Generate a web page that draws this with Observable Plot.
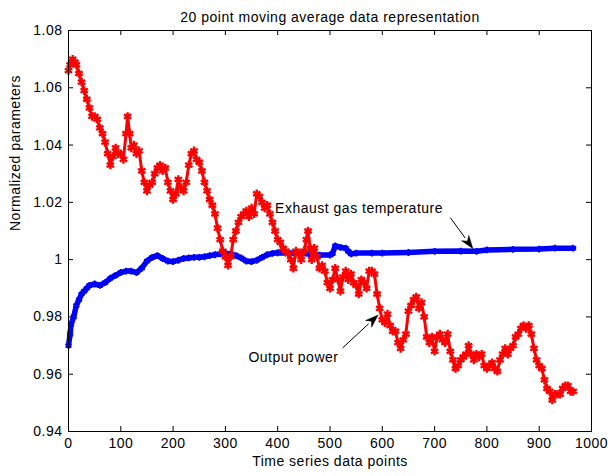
<!DOCTYPE html>
<html>
<head>
<meta charset="utf-8">
<script src="https://cdn.jsdelivr.net/npm/d3@7"></script>
<script src="https://cdn.jsdelivr.net/npm/@observablehq/plot@0.6"></script>
<style>
  html, body { margin: 0; padding: 0; background: #fff; }
  svg text { letter-spacing: 0.5px; }
</style>
</head>
<body>
<div id="chart"></div>
<script>
// ---- data ----
const titleText = "20 point moving average data representation";
const xLabel = "Time series data points";
const yLabel = "Normalized parameters";

const xTicks = [0, 100, 200, 300, 400, 500, 600, 700, 800, 900, 1000];
const xTickLabels = ["0", "100", "200", "300", "400", "500", "600", "700", "800", "900", "1000"];
const yTicks = [0.94, 0.96, 0.98, 1.00, 1.02, 1.04, 1.06, 1.08];
const yTickLabels = ["0.94", "0.96", "0.98", "1", "1.02", "1.04", "1.06", "1.08"];

// Output power (red)
const powerX = [0,3,6,8,12,15,20,25,30,35,40,45,50,55,60,65,70,75,80,85,90,95,100,105,110,113,117,120,125,130,135,140,145,150,155,160,165,170,175,180,185,190,195,200,205,210,215,220,225,230,235,240,245,250,255,260,265,270,275,280,285,290,295,300,305,310,315,320,325,330,335,340,345,350,355,360,365,370,375,380,385,390,395,400,405,410,415,420,425,430,435,440,445,450,455,458,462,465,470,475,480,485,490,495,500,505,510,515,520,525,530,535,540,545,550,555,560,565,570,575,580,585,590,595,600,605,610,615,620,625,630,635,640,645,650,655,660,665,670,675,680,685,690,695,700,705,710,715,720,725,730,735,740,745,750,755,760,765,770,775,780,785,790,795,800,805,810,815,820,825,830,835,840,845,850,855,860,865,870,875,880,885,890,895,900,905,910,915,920,925,930,935,940,945,950,955,960,965];
const powerY = [1.066,1.068,1.069,1.070,1.069,1.068,1.065,1.062,1.059,1.056,1.053,1.050,1.050,1.049,1.046,1.044,1.041,1.037,1.033,1.036,1.039,1.037,1.037,1.035,1.044,1.050,1.044,1.039,1.040,1.037,1.038,1.031,1.027,1.024,1.026,1.027,1.030,1.032,1.033,1.031,1.032,1.027,1.024,1.021,1.023,1.028,1.025,1.024,1.027,1.033,1.037,1.038,1.035,1.034,1.031,1.027,1.024,1.021,1.019,1.016,1.011,1.007,1.003,1.001,0.998,1.001,1.007,1.010,1.013,1.015,1.016,1.017,1.015,1.018,1.016,1.023,1.022,1.020,1.018,1.019,1.016,1.013,1.010,1.007,1.006,1.004,1.003,1.002,1.000,0.997,1.003,1.002,1.000,1.003,1.007,1.010,1.004,1.000,1.004,1.001,0.997,0.998,0.996,0.992,0.990,0.993,0.997,0.993,0.989,0.994,0.996,0.993,0.995,0.992,0.991,0.988,0.993,0.992,0.990,0.996,0.996,0.995,0.988,0.983,0.979,0.978,0.981,0.977,0.975,0.975,0.971,0.969,0.972,0.974,0.982,0.984,0.986,0.987,0.983,0.985,0.980,0.973,0.971,0.973,0.968,0.973,0.974,0.972,0.971,0.974,0.968,0.965,0.962,0.963,0.965,0.966,0.967,0.970,0.967,0.965,0.967,0.966,0.967,0.963,0.962,0.963,0.964,0.962,0.961,0.965,0.967,0.969,0.967,0.969,0.970,0.973,0.974,0.976,0.977,0.976,0.977,0.974,0.969,0.965,0.963,0.962,0.958,0.955,0.954,0.951,0.953,0.953,0.953,0.955,0.956,0.956,0.954,0.954];

// Exhaust gas temperature (blue)
const tempX = [0,3,5,10,15,20,25,30,35,40,50,60,70,80,90,100,110,120,130,140,150,160,170,180,190,200,210,220,230,240,250,260,270,280,290,300,310,320,330,340,350,360,370,380,390,400,420,440,460,480,500,505,510,520,530,535,540,550,580,600,650,700,750,780,800,850,900,930,965];
const tempY = [0.970,0.974,0.9775,0.980,0.984,0.986,0.988,0.989,0.990,0.991,0.9915,0.991,0.992,0.9935,0.9945,0.9955,0.996,0.996,0.9955,0.997,0.9995,1.0008,1.0014,1.0004,0.9995,0.9993,0.9998,1.0004,1.0006,1.0008,1.0008,1.001,1.0014,1.0017,1.002,1.0022,1.002,1.0014,1.0006,0.9995,0.9993,0.9998,1.0008,1.0017,1.0022,1.0024,1.0023,1.0022,1.002,1.0016,1.0016,1.0022,1.0048,1.0043,1.004,1.0029,1.002,1.0023,1.0023,1.0023,1.0025,1.0029,1.003,1.0029,1.0034,1.0036,1.0037,1.004,1.004];

// annotations: label anchor and arrow start/tip in data units
const annLabels = ["Exhaust gas temperature", "Output power"];
const annLabelX = [395, 344];
const annLabelY = [1.018, 0.9658];
const arrowX1 = [731, 525];
const arrowY1 = [1.0145, 0.969];
const arrowX2 = [774, 593];
const arrowY2 = [1.0037, 0.9805];

// ---- build ----
const power = powerX.map((x, i) => ({x, y: powerY[i]}));
const temp = tempX.map((x, i) => ({x, y: tempY[i]}));
const ann = annLabels.map((t, i) => ({t, x: annLabelX[i], y: annLabelY[i]}));
const arrows = arrowX1.map((x1, i) => ({x1, y1: arrowY1[i], x2: arrowX2[i], y2: arrowY2[i]}));

const W = 608, H = 476;
const mL = 68, mR = 17, mT = 30, mB = 45;
const plotW = W - mL - mR, plotH = H - mT - mB;
const tick = 5;

function arrowHeads(index, scales) {
  const g = d3.create("svg:g");
  for (const a of arrows) {
    const x1 = scales.x(a.x1), y1 = scales.y(a.y1), x2 = scales.x(a.x2), y2 = scales.y(a.y2);
    const ang = Math.atan2(y2 - y1, x2 - x1);
    const L = 13, hw = 4.5;
    const bx = x2 - L * Math.cos(ang), by = y2 - L * Math.sin(ang);
    const nx = -Math.sin(ang), ny = Math.cos(ang);
    g.append("line").attr("x1", x1).attr("y1", y1).attr("x2", bx).attr("y2", by)
      .attr("stroke", "black").attr("stroke-width", 1);
    const mx = x2 - 0.7 * L * Math.cos(ang), my = y2 - 0.7 * L * Math.sin(ang);
    g.append("path")
      .attr("d", `M${x2},${y2}L${bx + hw * nx},${by + hw * ny}L${mx},${my}L${bx - hw * nx},${by - hw * ny}Z`)
      .attr("fill", "black").attr("stroke", "black").attr("stroke-width", 0.5);
  }
  return g.node();
}

const chart = Plot.plot({
  width: W, height: H,
  marginLeft: mL, marginRight: mR, marginTop: mT, marginBottom: mB,
  style: {fontFamily: "'Liberation Sans', Arial, sans-serif", fontSize: "14px", background: "white", color: "black"},
  x: {domain: [0, 1000], ticks: xTicks, tickSize: 0, tickPadding: 7, label: null,
      tickFormat: d => xTickLabels[xTicks.indexOf(d)]},
  y: {domain: [0.94, 1.08], ticks: yTicks, tickSize: 0, tickPadding: 6, label: null,
      tickFormat: d => yTickLabels[yTicks.findIndex(t => Math.abs(t - d) < 1e-9)]},
  marks: [
    // inward tick marks on all four sides
    Plot.tickX(xTicks, {x: d => d, insetTop: plotH - tick, stroke: "black"}),
    Plot.tickX(xTicks, {x: d => d, insetBottom: plotH - tick, stroke: "black"}),
    Plot.tickY(yTicks, {y: d => d, insetRight: plotW - tick, stroke: "black"}),
    Plot.tickY(yTicks, {y: d => d, insetLeft: plotW - tick, stroke: "black"}),
    // exhaust gas temperature
    Plot.line(temp, {x: "x", y: "y", stroke: "#0000ff", strokeWidth: 5.5}),
    Plot.dot(temp, {x: "x", y: "y", symbol: "asterisk", r: 3.2, stroke: "#0000ff", strokeWidth: 2}),
    // output power
    Plot.line(power, {x: "x", y: "y", stroke: "#ff0000", strokeWidth: 3}),
    Plot.dot(power, {x: "x", y: "y", symbol: "asterisk", r: 4, stroke: "#ff0000", strokeWidth: 2.4}),
    // annotations
    arrowHeads,
    Plot.text(ann, {x: "x", y: "y", text: "t", textAnchor: "start", fill: "black", fontSize: 14}),
    // title and axis labels
    Plot.text([titleText], {frameAnchor: "top", dy: -18, fill: "black", fontSize: 14}),
    Plot.text([xLabel], {frameAnchor: "bottom", dy: 34, fill: "black", fontSize: 14}),
    Plot.text([yLabel], {frameAnchor: "left", dx: -53, rotate: -90, fill: "black", fontSize: 14}),
    Plot.frame({stroke: "black"})
  ]
});
document.getElementById("chart").appendChild(chart);
</script>
</body>
</html>
